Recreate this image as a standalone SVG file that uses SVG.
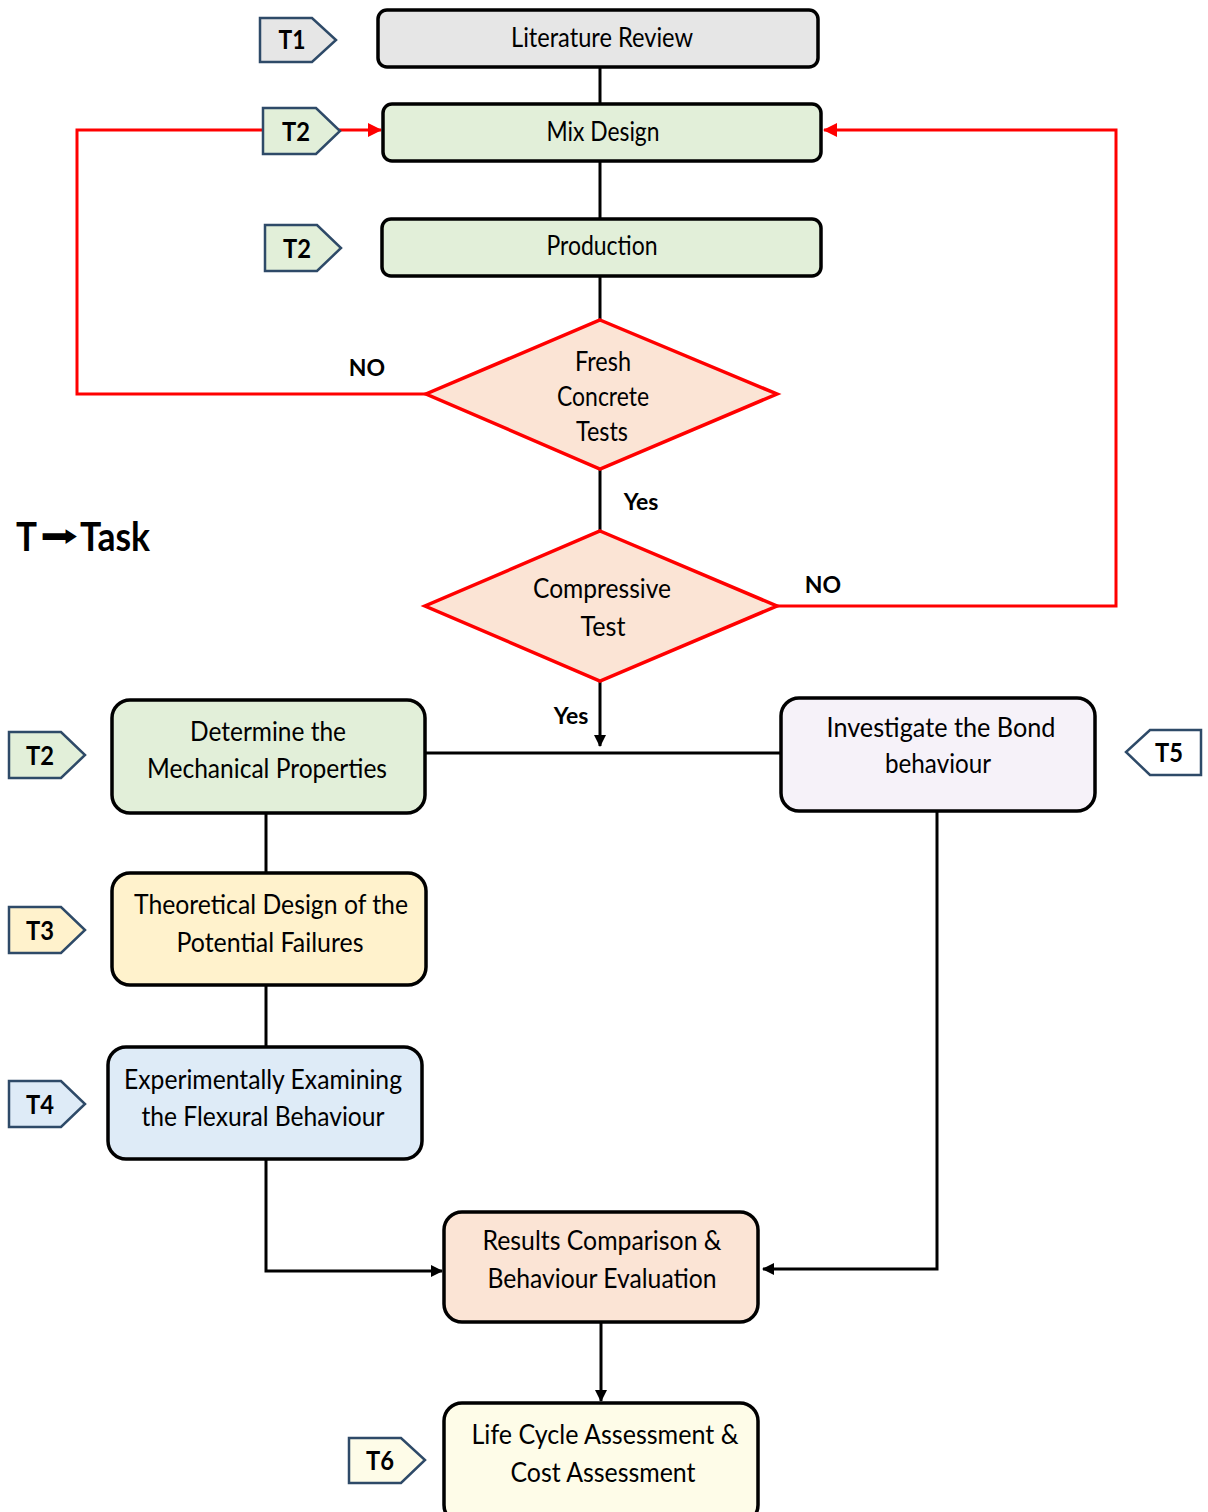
<svg xmlns="http://www.w3.org/2000/svg" width="1208" height="1512" viewBox="0 0 1208 1512">
  <style>
    .box { stroke: #000; stroke-width: 3.5; }
    .dia { stroke: #ff0000; stroke-width: 3.5; fill: #fbe4d5; }
    .tag { stroke: #2e4a68; stroke-width: 2.5; }
    .txt { font-family: Lato, "Open Sans", sans-serif; font-size: 26px; fill: #000; text-anchor: middle; }
    .tagtxt { font-family: Lato, "Open Sans", sans-serif; font-size: 27px; font-weight: bold; fill: #000; text-anchor: middle; }
    .lbl { font-family: Lato, "Open Sans", sans-serif; font-size: 23px; font-weight: bold; fill: #000; text-anchor: middle; }
    .legend { font-family: Lato, "Open Sans", sans-serif; font-size: 40px; font-weight: bold; fill: #000; }
    .blk { stroke: #000; stroke-width: 3; fill: none; }
    .red { stroke: #ff0000; stroke-width: 3; fill: none; }
  </style>
  <defs>
    <marker id="ah" markerWidth="12" markerHeight="12" refX="11" refY="6" orient="auto" markerUnits="userSpaceOnUse">
      <path d="M0,0 L12,6 L0,12 Z" fill="#000"/>
    </marker>
    <marker id="ahr" markerWidth="14" markerHeight="14" refX="13" refY="7" orient="auto" markerUnits="userSpaceOnUse">
      <path d="M0,0 L14,7 L0,14 Z" fill="#ff0000"/>
    </marker>
  </defs>
  <rect width="1208" height="1512" fill="#fff"/>

  <!-- connectors -->
  <g id="connectors">
    <line class="blk" x1="600" y1="67" x2="600" y2="104"/>
    <line class="blk" x1="600" y1="161" x2="600" y2="219"/>
    <line class="blk" x1="600" y1="276" x2="600" y2="320"/>
    <line class="blk" x1="600" y1="469" x2="600" y2="531"/>
    <line class="blk" x1="600" y1="681" x2="600" y2="746" marker-end="url(#ah)"/>
    <line class="blk" x1="425" y1="753" x2="781" y2="753"/>
    <line class="blk" x1="266" y1="813" x2="266" y2="873"/>
    <line class="blk" x1="266" y1="985" x2="266" y2="1047"/>
    <polyline class="blk" points="266,1159 266,1271 442,1271" marker-end="url(#ah)"/>
    <polyline class="blk" points="937,811 937,1269 763,1269" marker-end="url(#ah)"/>
    <line class="blk" x1="601" y1="1322" x2="601" y2="1401" marker-end="url(#ah)"/>
    <polyline class="red" points="426,394 77,394 77,130 263,130"/>
    <line class="red" x1="338" y1="130" x2="381" y2="130" marker-end="url(#ahr)"/>
    <polyline class="red" points="777,606 1116,606 1116,130 824,130" marker-end="url(#ahr)"/>
  </g>

  <!-- edge labels -->
  <text class="lbl" x="367" y="376">NO</text>
  <text class="lbl" x="641" y="510">Yes</text>
  <text class="lbl" x="823" y="593">NO</text>
  <text class="lbl" x="571" y="724">Yes</text>

  <!-- legend -->
  <text class="legend" x="16" y="551" textLength="21" lengthAdjust="spacingAndGlyphs">T</text>
  <text x="40" y="546" font-family="'DejaVu Sans', sans-serif" font-size="30" fill="#000" textLength="38" lengthAdjust="spacingAndGlyphs">➡</text>
  <text class="legend" x="80" y="551" textLength="70" lengthAdjust="spacingAndGlyphs">Task</text>

  <!-- task tags -->
  <g id="tag-t1">
    <polygon class="tag" points="260,18 312,18 336,40 312,62 260,62" fill="#e6e6e6" stroke="#333"/>
    <text class="tagtxt" x="292" y="49" textLength="27" lengthAdjust="spacingAndGlyphs">T1</text>
  </g>
  <g id="tag-t2a">
    <polygon class="tag" points="263,108 316,108 340,131 316,154 263,154" fill="#e2efd9"/>
    <text class="tagtxt" x="296" y="141" textLength="28" lengthAdjust="spacingAndGlyphs">T2</text>
  </g>
  <g id="tag-t2b">
    <polygon class="tag" points="265,225 317,225 341,248 317,271 265,271" fill="#e2efd9"/>
    <text class="tagtxt" x="297" y="258" textLength="28" lengthAdjust="spacingAndGlyphs">T2</text>
  </g>
  <g id="tag-t2c">
    <polygon class="tag" points="9,732 61,732 85,755 61,778 9,778" fill="#e2efd9"/>
    <text class="tagtxt" x="40" y="765" textLength="28" lengthAdjust="spacingAndGlyphs">T2</text>
  </g>
  <g id="tag-t3">
    <polygon class="tag" points="9,907 61,907 85,930 61,953 9,953" fill="#fff2cc"/>
    <text class="tagtxt" x="40" y="940" textLength="28" lengthAdjust="spacingAndGlyphs">T3</text>
  </g>
  <g id="tag-t4">
    <polygon class="tag" points="9,1081 61,1081 85,1104 61,1127 9,1127" fill="#deebf7"/>
    <text class="tagtxt" x="40" y="1114" textLength="28" lengthAdjust="spacingAndGlyphs">T4</text>
  </g>
  <g id="tag-t5">
    <polygon class="tag" points="1201,730 1150,730 1126,752 1150,775 1201,775" fill="#ffffff"/>
    <text class="tagtxt" x="1169" y="762" textLength="28" lengthAdjust="spacingAndGlyphs">T5</text>
  </g>
  <g id="tag-t6">
    <polygon class="tag" points="349,1438 401,1438 425,1460 401,1483 349,1483" fill="#fefce8"/>
    <text class="tagtxt" x="380" y="1470" textLength="28" lengthAdjust="spacingAndGlyphs">T6</text>
  </g>

  <!-- process nodes -->
  <g id="literature-review">
    <rect class="box" x="378" y="10" width="440" height="57" rx="9" fill="#e6e6e6"/>
    <text class="txt" x="602" y="47" textLength="182" lengthAdjust="spacingAndGlyphs">Literature Review</text>
  </g>
  <g id="mix-design">
    <rect class="box" x="383" y="104" width="438" height="57" rx="9" fill="#e2efd9"/>
    <text class="txt" x="603" y="141" textLength="113" lengthAdjust="spacingAndGlyphs">Mix Design</text>
  </g>
  <g id="production">
    <rect class="box" x="382" y="219" width="439" height="57" rx="9" fill="#e2efd9"/>
    <text class="txt" x="602" y="255" textLength="111" lengthAdjust="spacingAndGlyphs">Production</text>
  </g>
  <g id="fresh-concrete-tests">
    <polygon class="dia" points="600,320 777,394 600,469 426,394"/>
    <text class="txt" x="603" y="371" textLength="56" lengthAdjust="spacingAndGlyphs">Fresh</text>
    <text class="txt" x="603" y="406" textLength="92" lengthAdjust="spacingAndGlyphs">Concrete</text>
    <text class="txt" x="602" y="441" textLength="52" lengthAdjust="spacingAndGlyphs">Tests</text>
  </g>
  <g id="compressive-test">
    <polygon class="dia" points="600,531 777,606 600,681 425,606"/>
    <text class="txt" x="602" y="598" textLength="138" lengthAdjust="spacingAndGlyphs">Compressive</text>
    <text class="txt" x="603" y="636" textLength="45" lengthAdjust="spacingAndGlyphs">Test</text>
  </g>
  <g id="mechanical-properties">
    <rect class="box" x="112" y="700" width="313" height="113" rx="18" fill="#e2efd9"/>
    <text class="txt" x="268" y="741" textLength="156" lengthAdjust="spacingAndGlyphs">Determine the</text>
    <text class="txt" x="267" y="778" textLength="240" lengthAdjust="spacingAndGlyphs">Mechanical Properties</text>
  </g>
  <g id="bond-behaviour">
    <rect class="box" x="781" y="698" width="314" height="113" rx="18" fill="#f6f2f9"/>
    <text class="txt" x="941" y="737" textLength="229" lengthAdjust="spacingAndGlyphs">Investigate the Bond</text>
    <text class="txt" x="938" y="773" textLength="106" lengthAdjust="spacingAndGlyphs">behaviour</text>
  </g>
  <g id="theoretical-design">
    <rect class="box" x="112" y="873" width="314" height="112" rx="18" fill="#fff2cc"/>
    <text class="txt" x="271" y="914" textLength="274" lengthAdjust="spacingAndGlyphs">Theoretical Design of the</text>
    <text class="txt" x="270" y="952" textLength="187" lengthAdjust="spacingAndGlyphs">Potential Failures</text>
  </g>
  <g id="flexural-behaviour">
    <rect class="box" x="108" y="1047" width="314" height="112" rx="18" fill="#deebf7"/>
    <text class="txt" x="263" y="1089" textLength="278" lengthAdjust="spacingAndGlyphs">Experimentally Examining</text>
    <text class="txt" x="263" y="1126" textLength="243" lengthAdjust="spacingAndGlyphs">the Flexural Behaviour</text>
  </g>
  <g id="results-comparison">
    <rect class="box" x="444" y="1212" width="314" height="110" rx="18" fill="#fbe4d5"/>
    <text class="txt" x="602" y="1250" textLength="239" lengthAdjust="spacingAndGlyphs">Results Comparison &amp;</text>
    <text class="txt" x="602" y="1288" textLength="229" lengthAdjust="spacingAndGlyphs">Behaviour Evaluation</text>
  </g>
  <g id="life-cycle-assessment">
    <rect class="box" x="444" y="1403" width="314" height="120" rx="18" fill="#fefce8"/>
    <text class="txt" x="605" y="1444" textLength="267" lengthAdjust="spacingAndGlyphs">Life Cycle Assessment &amp;</text>
    <text class="txt" x="603" y="1482" textLength="185" lengthAdjust="spacingAndGlyphs">Cost Assessment</text>
  </g>
</svg>
